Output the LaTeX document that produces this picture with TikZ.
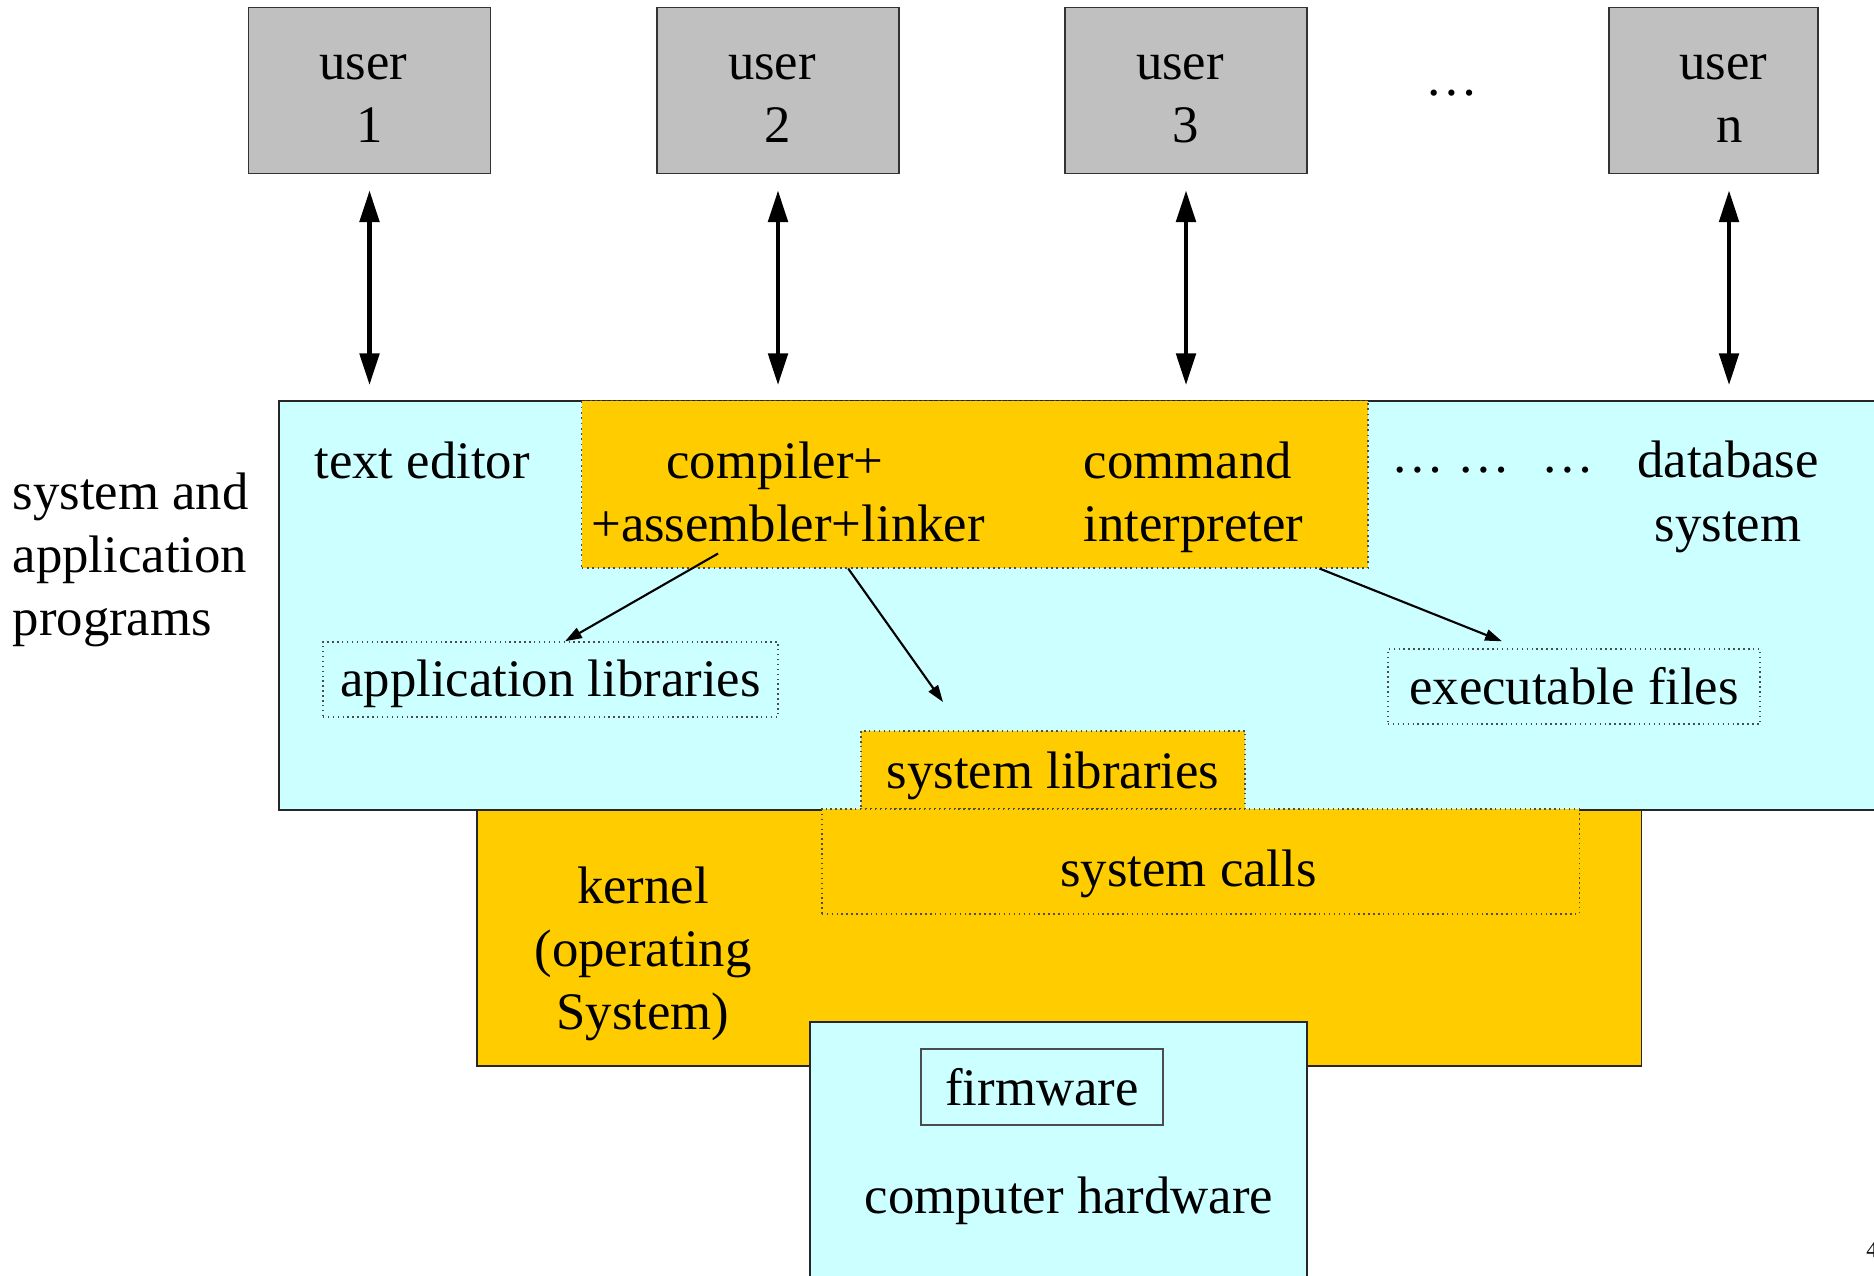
\documentclass[tikz,border=0pt]{standalone}
\usepackage{fontspec}
\setmainfont{Liberation Serif}
\usetikzlibrary{positioning,arrows.meta}
\definecolor{lightcyan}{HTML}{CCFFFF}
\definecolor{gold}{HTML}{FFCC00}
\definecolor{usergray}{HTML}{C0C0C0}
\tikzset{
  every node/.style={font=\fontsize{15}{18}\selectfont},
  userbox/.style={draw=black!80, fill=usergray, line width=0.5pt, minimum width=2.42cm, minimum height=1.66cm, inner sep=0pt},
  usertext/.style={align=center, yshift=-0.08cm},
  layer/.style={draw=black!85, line width=0.5pt, inner sep=0pt, anchor=north west},
  dotbox/.style={draw=black!70, densely dotted, line width=0.4pt, inner sep=0pt},
  biarrow/.style={{Triangle[length=9pt,width=5.5pt]}-{Triangle[length=9pt,width=5.5pt]}, line width=1.2pt, shorten <=0.16cm, shorten >=0.15cm},
  thinarrow/.style={-{Triangle[length=4.8pt,width=3.2pt]}, line width=0.6pt},
}
\begin{document}
\begin{tikzpicture}[x=0.01cm, y=-0.01cm]
\useasboundingbox (0,0) rectangle (1874,1275);

% layers, back to front
\node[layer, fill=lightcyan, minimum width=16.3cm, minimum height=4.09cm] (apps) at (278,400) {};
\node[layer, dotbox, fill=gold, minimum width=7.86cm, minimum height=1.67cm] (tools) at (581,400) {};
\node[dotbox, fill=gold, minimum width=3.84cm, minimum height=0.78cm, text depth=0pt] (syslib) at (1053,770) {system libraries};
\node[layer, fill=gold, minimum width=11.64cm, minimum height=2.56cm] (kernel) at (476,809) {};
\node[dotbox, fill=gold, minimum width=7.57cm, minimum height=1.05cm, text height=0.5cm, text depth=0pt] (syscalls) at (1200.5,861.5) {system calls\kern0.24cm};
\node[layer, fill=lightcyan, minimum width=4.97cm, minimum height=3cm] (hw) at (809,1021) {};
\node[draw=black!70, line width=0.4pt, fill=lightcyan, minimum width=2.42cm, minimum height=0.76cm, inner sep=0pt] (firmware) at (1042,1087) {firmware};
\node (hwtext) at (1069,1201) {computer hardware};
\node[align=center] (ktext) at (643,954) {kernel\\(operating\\System)};

% programs
\node (editor) at (422,460) {text editor};
\node[align=center] (compiler) at (788,492) {compiler+\kern0.26cm\\+assembler+linker};
\node[align=left, anchor=west, inner sep=0pt] (shell) at (1083,497) {command\\interpreter};
\node (moredots) at (1493,460) {\strut… …\hspace{0.6em}…};
\node[align=center] (db) at (1728,497) {database\\system};
\node[align=left, anchor=west, inner sep=0pt] (sysprog) at (12,560) {system and\\application\\programs};
\node[dotbox, minimum width=4.55cm, minimum height=0.75cm, text depth=0.035cm] (applib) at (550.5,679.5) {application libraries};
\node[dotbox, minimum width=3.72cm, minimum height=0.75cm] (exec) at (1574,686.5) {executable files};

% users
\node[userbox, label={[usertext]center:user\kern0.12cm\\1}] (u1) at (369.5,90.5) {};
\node[userbox, label={[usertext]center:user\kern0.12cm\\2}] (u2) [right=1.645cm of u1] {};
\node[userbox, label={[usertext]center:user\kern0.12cm\\3}] (u3) [right=1.64cm of u2] {};
\node (udots) at (1452,93) {…};
\node[userbox, minimum width=2.09cm, label={[usertext]center:\kern0.2cm user\\\kern0.32cm n}] (un) at (1713.5,90.5) {};
\node[font=\fontsize{6.5}{8}\selectfont] (pagenum) at (1872,1250) {4};

\foreach \u in {u1,u2,u3}
  \draw[biarrow] (\u.south) -- (\u.south |- apps.north);
\coordinate (unfoot) at ([xshift=0.155cm]un.south);
\draw[biarrow] (unfoot) -- (unfoot |- apps.north);

\coordinate (slhint) at (943,702);
\draw[thinarrow] ([xshift=1.37cm,yshift=0.15cm]tools.south west) -- ([xshift=0.145cm]applib.north);
\draw[thinarrow] ([xshift=2.67cm]tools.south west) -- (slhint);
\draw[thinarrow] ([xshift=7.38cm]tools.south west) -- ([xshift=-0.72cm,yshift=0.07cm]exec.north);
\end{tikzpicture}
\end{document}
